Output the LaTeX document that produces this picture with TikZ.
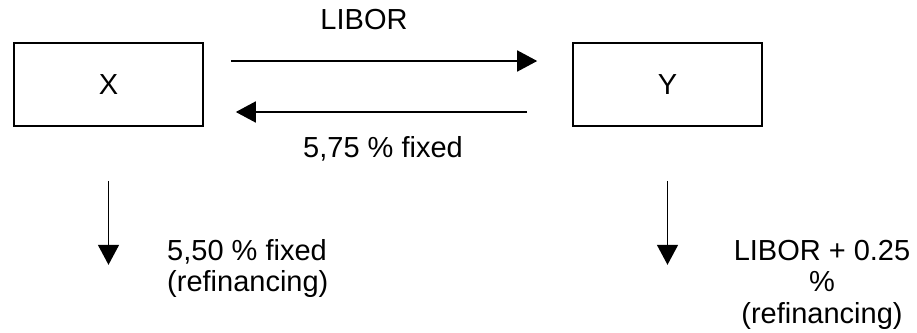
\documentclass[tikz,border=0pt]{standalone}
\usepackage{fontspec}
\setmainfont{Liberation Sans}
\usetikzlibrary{arrows.meta}
\begin{document}
\begin{tikzpicture}[x=1pt,y=-1pt,
  every node/.style={font=\fontsize{29}{31.5}\selectfont},
  party/.style={draw,line width=1.6pt,minimum width=189pt,minimum height=83pt,inner sep=0pt},
  flow/.style={line width=1.6pt,-{Triangle[length=20pt,width=21pt]}},
  lbl/.style={inner sep=0pt}]
\useasboundingbox (0,0) rectangle (917,332);
% counterparties
\node[party] (X) at (108.5,84.5) {X};
\node[party] (Y) at (667.5,84.5) {Y};
% swap payments
\draw[flow] ([shift={(27pt,23.5pt)}]X.east) -- ([shift={(-35pt,23.5pt)}]Y.west);
\draw[flow] ([shift={(-45pt,-27.5pt)}]Y.west) -- ([shift={(32pt,-27.5pt)}]X.east);
\node[lbl,anchor=base] (libor) at (364,29) {LIBOR};
\node[lbl,anchor=base] (fixed) at (383,157) {5,75 \% fixed};
% refinancing payments (multi-line labels are placed by their last baseline)
\draw[flow] ([yshift=-54pt]X.south) -- ++(0,84);
\draw[flow] ([yshift=-54pt]Y.south) -- ++(0,84);
\node[lbl,anchor=base west,align=left] (xref) at (167,291.5) {5,50 \% fixed\\(refinancing)};
\node[lbl,anchor=base,align=center] (yref) at (822,323) {LIBOR + 0.25\\\%\\(refinancing)};
\end{tikzpicture}
\end{document}
